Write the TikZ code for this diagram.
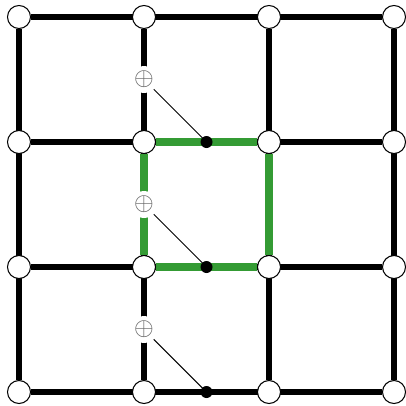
\documentclass[tikz,border=0pt]{standalone}
\usetikzlibrary{backgrounds}
\definecolor{plaqgreen}{RGB}{52,155,52}
\definecolor{ctrlgray}{RGB}{95,95,95}

\begin{document}
\begin{tikzpicture}[
  site/.style={circle,draw,fill=white,minimum size=0.46cm,inner sep=0pt,line width=0.6pt},
  link/.style={line width=3.8pt},
  plaq/.style={plaqgreen,line width=5pt},
  anc/.style={circle,fill=black,minimum size=0.24cm,inner sep=0pt},
  ctrl/.style={circle,fill=white,inner sep=0.2pt,font=\fontsize{13.5}{13.5}\selectfont,text=ctrlgray},
  wire/.style={line width=0.6pt}]
\useasboundingbox (-0.38,-0.26) rectangle (7.74,7.84);
% ---------------- lattice sites ----------------
\foreach \i in {0,...,3}
  \foreach \j in {0,...,3}
    \node[site] (v-\i-\j) at (2.5*\i,2.5*\j) {};
% ---------------- controls and ancillas ----------------
\node[ctrl] (c-3) at (2.5,6.25) {$\oplus$};
\node[ctrl] (c-2) at (2.5,3.75) {$\oplus$};
\node[ctrl] (c-1) at (2.5,1.25) {$\oplus$};
\node[anc] (a-3) at (3.75,5) {};
\node[anc] (a-2) at (3.75,2.5) {};
\node[anc] (a-1) at (3.75,0) {};
\begin{scope}[on background layer]
  % links
  \foreach \j in {0,...,3}
    \draw[link] (v-0-\j) -- (v-3-\j);
  \foreach \i in {0,...,3}
    \draw[link] (v-\i-0) -- (v-\i-3);
  % plaquette
  \draw[plaq] (v-1-1) -- (v-2-1);
  \draw[plaq] (v-2-1) -- (v-2-2);
  \draw[plaq] (v-2-2) -- (v-1-2);
  \draw[plaq] (v-1-2) -- (v-1-1);
\end{scope}
% wires
\draw[wire] (c-3) -- (a-3.center);
\draw[wire] (c-2) -- (a-2.center);
\draw[wire] (c-1) -- (a-1.center);
\end{tikzpicture}
\end{document}
